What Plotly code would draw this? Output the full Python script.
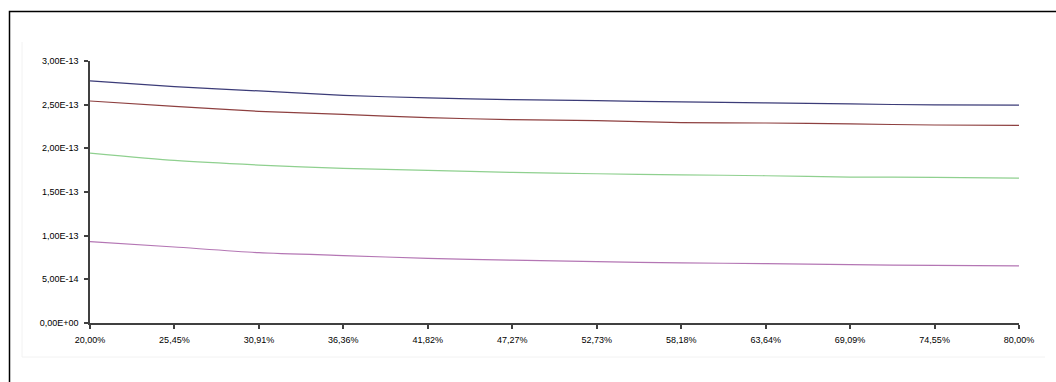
import plotly.graph_objects as go

# x positions (percent) and their tick labels
x_pct = [20.00, 25.45, 30.91, 36.36, 41.82, 47.27, 52.73, 58.18, 63.64, 69.09, 74.55, 80.00]
x_labels = ["20,00%", "25,45%", "30,91%", "36,36%", "41,82%", "47,27%",
            "52,73%", "58,18%", "63,64%", "69,09%", "74,55%", "80,00%"]

# series values (units of 1e-13)
series_a = [2.772, 2.706, 2.657, 2.607, 2.577, 2.557, 2.546, 2.531, 2.520, 2.508, 2.497, 2.495]
series_b = [2.542, 2.481, 2.423, 2.389, 2.351, 2.328, 2.317, 2.294, 2.290, 2.279, 2.267, 2.263]
series_c = [1.946, 1.861, 1.808, 1.770, 1.747, 1.724, 1.709, 1.697, 1.686, 1.671, 1.668, 1.659]
series_d = [0.932, 0.870, 0.805, 0.772, 0.740, 0.719, 0.703, 0.688, 0.680, 0.669, 0.659, 0.655]

y_ticks = [0, 0.5e-13, 1.0e-13, 1.5e-13, 2.0e-13, 2.5e-13, 3.0e-13]
y_labels = ["0,00E+00", "5,00E-14", "1,00E-13", "1,50E-13", "2,00E-13", "2,50E-13", "3,00E-13"]

colors = ["#3c3c78", "#8e4040", "#8fd08f", "#b476b4"]

fig = go.Figure()
for vals, col in zip([series_a, series_b, series_c, series_d], colors):
    fig.add_trace(go.Scatter(
        x=x_pct, y=[v * 1e-13 for v in vals], mode="lines",
        line=dict(color=col, width=1.2, shape="spline", smoothing=0.6),
        showlegend=False, hoverinfo="skip"))

axis_font = dict(family="Liberation Sans, Arial, sans-serif", size=9, color="#000000")

fig.update_xaxes(
    range=[20, 80], tickvals=x_pct, ticktext=x_labels, tickfont=axis_font,
    showgrid=False, zeroline=False, showline=True, linecolor="#404040", linewidth=1.5,
    ticks="outside", ticklen=4, tickcolor="#404040", tickwidth=1.5,
    ticklabelstandoff=3)
fig.update_yaxes(
    range=[0, 3e-13], tickvals=y_ticks, ticktext=y_labels, tickfont=axis_font,
    showgrid=False, zeroline=False, showline=True, linecolor="#404040", linewidth=1.5,
    ticks="outside", ticklen=4, tickcolor="#404040", tickwidth=1.5,
    ticklabelstandoff=4)

# plot area spans px x 90..1019, y 61..323
W, L, R = 1056, 90, 37
H, T, B = 382, 61, 59
pw = W - L - R
ph = H - T - B

def px_x(p):
    return (p - L) / pw

def px_y(p):
    return (H - B - p) / ph

faint = dict(color="#f2f2f2", width=1)
fig.update_layout(
    width=W, height=H,
    margin=dict(l=L, r=R, t=T, b=B),
    paper_bgcolor="white", plot_bgcolor="white",
    shapes=[
        # faint edges of the plotting region (left and bottom)
        dict(type="line", xref="paper", yref="paper",
             x0=px_x(22), x1=px_x(22), y0=px_y(357), y1=px_y(42),
             line=faint, layer="below"),
        dict(type="line", xref="paper", yref="paper",
             x0=px_x(22), x1=px_x(1045), y0=px_y(357), y1=px_y(357),
             line=faint, layer="below"),
        # outer chart frame
        dict(type="rect", xref="paper", yref="paper",
             x0=px_x(9.5), x1=px_x(1070), y0=px_y(395), y1=px_y(11.5),
             line=dict(color="#000000", width=1.5)),
    ],
)

fig.write_html("out.html")
